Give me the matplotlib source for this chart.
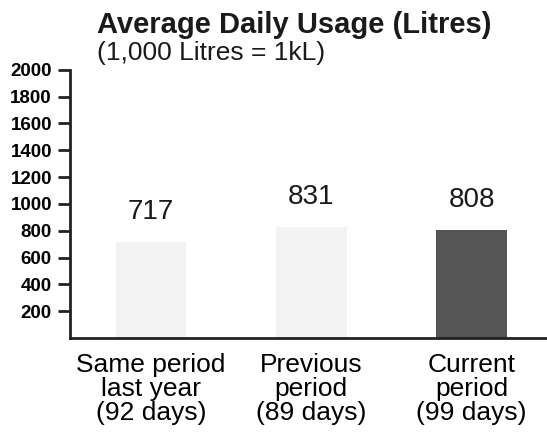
import matplotlib
matplotlib.use("Agg")
import matplotlib.pyplot as plt

plt.rcParams['font.family'] = ['Liberation Sans', 'DejaVu Sans']

categories = ["Same period\nlast year\n(92 days)",
              "Previous\nperiod\n(89 days)",
              "Current\nperiod\n(99 days)"]
usage = [717, 831, 808]
bar_colors = ["#f3f3f3", "#f3f3f3", "#555555"]
yticks = [200, 400, 600, 800, 1000, 1200, 1400, 1600, 1800, 2000]

fig = plt.figure(figsize=(5.47, 4.42), dpi=100)
ax = fig.add_axes([0.128, 0.235, 0.872, 0.607])

xs = list(range(len(usage)))
ax.bar(xs, usage, width=0.44, color=bar_colors, edgecolor="none")
for x, v in zip(xs, usage):
    ax.annotate(str(v), xy=(x, v), xytext=(0, 12), textcoords="offset points",
                ha="center", va="bottom", fontsize=20, color="#1a1a1a")

ax.set_xlim(-0.505, 2.47)
ax.set_ylim(0, 2000)
ax.set_yticks(yticks)
ax.set_yticklabels([str(t) for t in yticks], fontsize=13.5, fontweight="bold")
ax.tick_params(axis="y", length=9, width=2, pad=4, color="#222222")
ax.set_xticks(xs)
ax.set_xticklabels(categories, fontsize=19, linespacing=1.0)
ax.tick_params(axis="x", length=0, pad=11)

for s in ["top", "right"]:
    ax.spines[s].set_visible(False)
for s in ["left", "bottom"]:
    ax.spines[s].set_linewidth(2)
    ax.spines[s].set_color("#222222")

fig.text(0.178, 0.925, "Average Daily Usage (Litres)", fontsize=21,
         fontweight="bold", color="#1a1a1a", va="baseline")
fig.text(0.178, 0.864, "(1,000 Litres = 1kL)", fontsize=19,
         color="#1a1a1a", va="baseline")

fig.savefig("out.png", dpi=100)
